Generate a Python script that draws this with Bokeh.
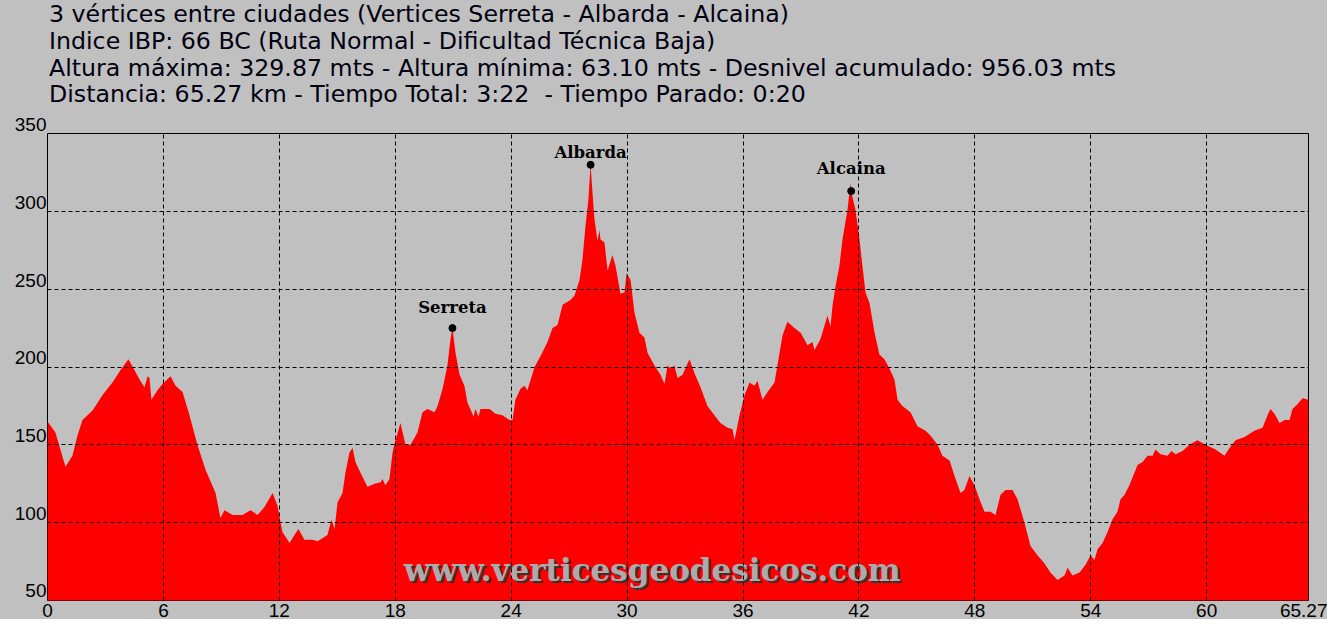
from bokeh.plotting import figure
from bokeh.layouts import column
from bokeh.models import Range1d, FixedTicker, Label, ColumnDataSource, Div
from bokeh.embed import file_html
from bokeh.resources import INLINE
from bokeh.core.properties import value

# ---------------- data ----------------
title_lines = [
    "3 vértices entre ciudades (Vertices Serreta - Albarda - Alcaina)",
    "Indice IBP: 66 BC (Ruta Normal - Dificultad Técnica Baja)",
    "Altura máxima: 329.87 mts - Altura mínima: 63.10 mts - Desnivel acumulado: 956.03 mts",
    "Distancia: 65.27 km - Tiempo Total: 3:22 &nbsp;- Tiempo Parado: 0:20",
]

km = [0.00, 0.41, 0.93, 1.29, 1.55, 1.81, 2.33, 2.85, 3.36, 3.78, 4.19, 4.50, 4.81, 5.02,
      5.18, 5.28, 5.38, 5.69, 5.95, 6.37, 6.63, 6.99, 7.35, 7.76, 8.18, 8.70, 8.95, 9.16,
      9.58, 10.09, 10.51, 10.87, 11.23, 11.65, 11.90, 12.16, 12.53, 12.78, 12.99, 13.30,
      13.72, 13.98, 14.49, 14.70, 14.86, 15.01, 15.27, 15.42, 15.63, 15.79, 15.94, 16.20,
      16.56, 16.93, 17.24, 17.34, 17.49, 17.70, 17.86, 18.01, 18.27, 18.53, 18.79, 19.15,
      19.41, 19.67, 20.03, 20.19, 20.45, 20.70, 20.86, 20.96, 21.12, 21.33, 21.58, 21.74,
      21.89, 22.05, 22.15, 22.31, 22.41, 22.88, 23.19, 23.55, 23.91, 24.07, 24.22, 24.48,
      24.69, 24.84, 25.21, 25.52, 25.88, 26.14, 26.40, 26.66, 27.07, 27.28, 27.54, 27.69,
      27.85, 28.00, 28.11, 28.21, 28.31, 28.47, 28.57, 28.62, 28.83, 28.99, 29.24, 29.40,
      29.66, 29.87, 29.97, 30.18, 30.38, 30.64, 30.90, 31.06, 31.42, 31.73, 31.94, 32.09,
      32.25, 32.45, 32.61, 32.87, 33.23, 33.49, 33.80, 34.16, 34.52, 34.83, 35.20, 35.46,
      35.56, 35.82, 36.08, 36.34, 36.59, 36.75, 37.01, 37.27, 37.63, 37.78, 38.04, 38.30,
      38.66, 38.98, 39.34, 39.60, 39.70, 40.01, 40.37, 40.53, 40.63, 40.79, 40.99, 41.15,
      41.41, 41.56, 41.63, 41.82, 42.03, 42.18, 42.34, 42.55, 42.81, 43.06, 43.32, 43.58,
      43.84, 44.00, 44.25, 44.67, 45.03, 45.45, 45.70, 46.07, 46.32, 46.69, 46.95, 47.26,
      47.46, 47.72, 47.98, 48.24, 48.50, 48.81, 49.07, 49.33, 49.59, 49.95, 50.21, 50.57,
      50.88, 51.24, 51.60, 51.91, 52.28, 52.64, 52.80, 53.05, 53.42, 53.73, 53.99, 54.19,
      54.35, 54.61, 54.87, 55.12, 55.38, 55.54, 55.75, 56.00, 56.26, 56.42, 56.68, 56.94,
      57.20, 57.35, 57.61, 57.97, 58.18, 58.39, 58.75, 59.11, 59.52, 59.94, 60.46, 60.92,
      61.18, 61.49, 61.96, 62.47, 62.89, 63.15, 63.30, 63.51, 63.77, 64.03, 64.29, 64.44,
      64.70, 64.96, 65.27]

elev = [165, 158, 136, 143, 156, 166, 172, 182, 190, 198, 205, 198, 191, 187,
        194, 193, 179, 185, 189, 194, 188, 184, 169, 150, 134, 119, 103, 108,
        105, 105, 108, 105, 110, 119, 111, 94, 87, 92, 96, 89,
        89, 88, 92, 102, 96, 113, 119, 132, 145, 148, 139, 132,
        123, 125, 126, 128, 124, 128, 145, 153, 164, 150, 150, 158,
        171, 173, 171, 175, 186, 201, 218, 225, 209, 195, 188, 177,
        173, 168, 173, 168, 173, 173, 170, 169, 166, 166, 179, 186,
        188, 185, 200, 207, 216, 225, 227, 240, 243, 246, 256, 269,
        291, 308, 329.87, 312, 295, 281, 288, 282, 280, 262, 272, 265,
        247, 248, 260, 256, 235, 222, 219, 209, 201, 195, 189, 201,
        199, 201, 193, 195, 205, 196, 187, 175, 169, 164, 161, 160,
        153, 169, 182, 190, 188, 191, 179, 184, 190, 201, 220, 229,
        225, 222, 214, 216, 211, 218, 233, 226, 239, 252, 265, 282,
        301, 318, 311, 301, 282, 265, 248, 241, 222, 208, 205, 199,
        192, 179, 175, 171, 162, 159, 156, 150, 143, 140, 130, 119,
        121, 130, 124, 115, 107, 107, 105, 118, 121, 121, 115, 100,
        85, 79, 74, 68, 63.1, 66, 71, 66, 68, 73, 79, 76,
        83, 87, 94, 102, 107, 115, 118, 124, 132, 137, 139, 143,
        143, 147, 144, 143, 146, 144, 146, 150, 153, 150, 147, 143,
        148, 153, 155, 159, 161, 169, 173, 170, 164, 166, 166, 173,
        176, 180, 179]

peak_names = ["Serreta", "Albarda", "Alcaina"]
peak_km = [20.96, 28.11, 41.60]
peak_elev = [225, 329.87, 313]
peak_label_gap = [21, 12, 23]

x_ticks = [0, 6, 12, 18, 24, 30, 36, 42, 48, 54, 60, 65.27]
x_labels = ["0", "6", "12", "18", "24", "30", "36", "42", "48", "54", "60", "65.27"]
y_ticks = [50, 100, 150, 200, 250, 300, 350]
y_labels = ["50", "100", "150", "200", "250", "300", "350"]

watermark = "www.verticesgeodesicos.com"

# ---------------- layout constants ----------------
BG = "#C0C0C0"
W = 1327
HEAD = 110          # height of the heading strip
H = 619             # total height
FL, FR = 47, 1308   # frame left / right

# ---------------- heading (four text lines) ----------------
head_html = (
    "<div style=\"font-family:'DejaVu Sans'; font-size:23.7px; line-height:26.8px; "
    "color:#000010; padding-left:49px; margin-top:1px; white-space:nowrap;\">"
    + "<br>".join(title_lines) + "</div>"
)
head = Div(text=head_html, width=W, height=HEAD,
           styles={"background-color": BG, "margin": "0", "padding": "0",
                   "overflow": "visible"})

# ---------------- profile chart ----------------
p = figure(width=W, height=H - HEAD,
           x_range=Range1d(0, 65.27), y_range=Range1d(50, 350),
           output_backend="svg", toolbar_location=None,
           min_border_left=FL, min_border_right=W - FR,
           min_border_top=133 - HEAD, min_border_bottom=19,
           background_fill_color=BG, border_fill_color=BG,
           outline_line_color="black", outline_line_width=1)

src = ColumnDataSource(dict(km=km, elev=elev))
p.varea(x="km", y1=0, y2="elev", source=src, fill_color="#FF0000", fill_alpha=1.0)

# watermark (shadow + face)
wm = ColumnDataSource(dict(x=[31.3], y=[69.5], t=[watermark]))
p.text(x="x", y="y", text="t", source=wm, text_align="center", text_baseline="middle",
       text_font=value("DejaVu Serif"), text_font_style="bold", text_font_size="31px",
       text_color="#333333", x_offset=2, y_offset=2)
p.text(x="x", y="y", text="t", source=wm, text_align="center", text_baseline="middle",
       text_font=value("DejaVu Serif"), text_font_style="bold", text_font_size="31px",
       text_color="#ABABAB")

# peaks
pk = ColumnDataSource(dict(x=peak_km, y=peak_elev))
p.scatter(x="x", y="y", source=pk, size=7, color="black", marker="circle")
for name, xk, yk, gap in zip(peak_names, peak_km, peak_elev, peak_label_gap):
    p.add_layout(Label(x=xk, y=yk, text=name, y_offset=gap, text_align="center",
                       text_baseline="alphabetic", text_font="DejaVu Serif",
                       text_font_style="bold", text_font_size="16.5px", text_color="black"))

# axes and grid
p.xaxis.ticker = FixedTicker(ticks=x_ticks)
p.xaxis.major_label_overrides = {t: l for t, l in zip(x_ticks, x_labels)}
p.yaxis.ticker = FixedTicker(ticks=y_ticks)
# y labels sit just above their grid line: an empty second line lifts them
p.yaxis.major_label_overrides = {t: l + "\n " for t, l in zip(y_ticks, y_labels)}
for ax in (p.xaxis, p.yaxis):
    ax.axis_line_color = None
    ax.major_tick_line_color = None
    ax.minor_tick_line_color = None
    ax.major_tick_out = 0
    ax.major_tick_in = 0
    ax.minor_tick_out = 0
    ax.minor_tick_in = 0
    ax.major_label_text_font = "Liberation Sans"
    ax.major_label_text_font_size = "19px"
    ax.major_label_text_color = "black"
p.xaxis.major_label_standoff = 3
p.yaxis.major_label_standoff = 1
p.yaxis.major_label_text_line_height = 0.87

p.xgrid.ticker = FixedTicker(ticks=x_ticks)
p.ygrid.ticker = FixedTicker(ticks=y_ticks)
for g in (p.xgrid, p.ygrid):
    g.grid_line_color = "black"
    g.grid_line_dash = "4 3"
    g.grid_line_width = 1
    g.level = "overlay"

layout = column(head, p, spacing=0, styles={"background-color": BG})
open("out.html", "w", encoding="utf-8").write(file_html(layout, INLINE))
